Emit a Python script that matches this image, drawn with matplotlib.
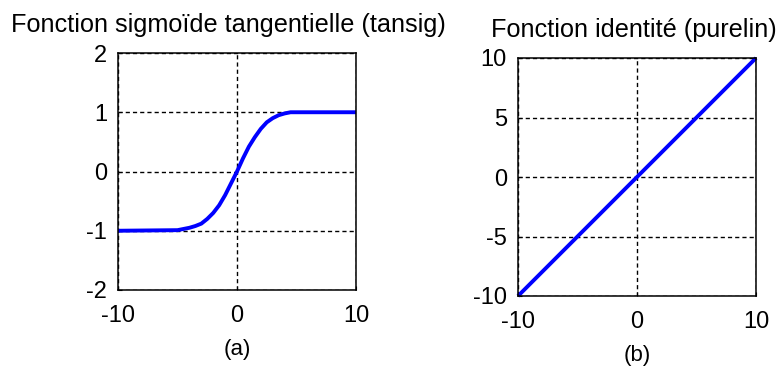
import matplotlib
matplotlib.use("Agg")
import matplotlib.pyplot as plt

plt.rcParams['font.family'] = ['Liberation Sans', 'DejaVu Sans']
plt.rcParams['lines.scale_dashes'] = False

# Data
tansig_x = [-10, -5, -4.5, -4, -3.5, -3, -2.5, -2, -1.5, -1, -0.5, 0,
            0.5, 1, 1.5, 2, 2.5, 3, 3.5, 4, 4.5, 5, 10]
tansig_y = [-1, -0.99, -0.97, -0.95, -0.92, -0.88, -0.8, -0.7, -0.57, -0.4, -0.2, 0,
            0.22, 0.42, 0.58, 0.72, 0.83, 0.9, 0.95, 0.98, 1.0, 1.0, 1]
purelin_x = [-10, -5, 0, 5, 10]
purelin_y = [-10, -5, 0, 5, 10]

xticks = [-10, 0, 10]
yticks_a = [-2, -1, 0, 1, 2]
yticks_b = [-10, -5, 0, 5, 10]

title_a = "Fonction sigmoïde tangentielle (tansig)"
title_b = "Fonction identité (purelin)"
label_a = "(a)"
label_b = "(b)"

W, H = 780, 372
fig = plt.figure(figsize=(W / 100, H / 100), dpi=100)

def px_axes(x0, y0, x1, y1):
    return fig.add_axes([x0 / W, (H - y1) / H, (x1 - x0) / W, (y1 - y0) / H])

ax_a = px_axes(118, 53, 356, 290)
ax_b = px_axes(518, 58, 756, 296)

def style(ax, yticks, ylim, title, label, title_x):
    ax.set_xlim(-10, 10)
    ax.set_ylim(*ylim)
    ax.set_xticks(xticks)
    ax.set_yticks(yticks)
    ax.set_xticklabels([str(v) for v in xticks])
    ax.set_yticklabels([str(v) for v in yticks])
    ax.tick_params(direction='in', length=3, width=0.8, labelsize=17,
                   pad=8, colors='black')
    ax.tick_params(axis='x', pad=10.5)
    for s in ax.spines.values():
        s.set_linewidth(1.1)
        s.set_color('black')
    ax.grid(True, color='black', linewidth=1.0, linestyle=(0, (3.0, 2.2)))
    ax.set_title(title, fontsize=18.2, pad=15, x=title_x)
    ax.set_xlabel(label, fontsize=16, labelpad=9)
    ax.set_axisbelow(True)

style(ax_a, yticks_a, (-2, 2), title_a, label_a, 0.466)
style(ax_b, yticks_b, (-10, 10), title_b, label_b, 0.487)

ax_a.plot(tansig_x, tansig_y, color='#0000ff', linewidth=2.8, clip_on=False,
          solid_capstyle='butt')
ax_b.plot(purelin_x, purelin_y, color='#0000ff', linewidth=2.8, clip_on=False,
          solid_capstyle='butt')

fig.savefig("out.png", dpi=100)
